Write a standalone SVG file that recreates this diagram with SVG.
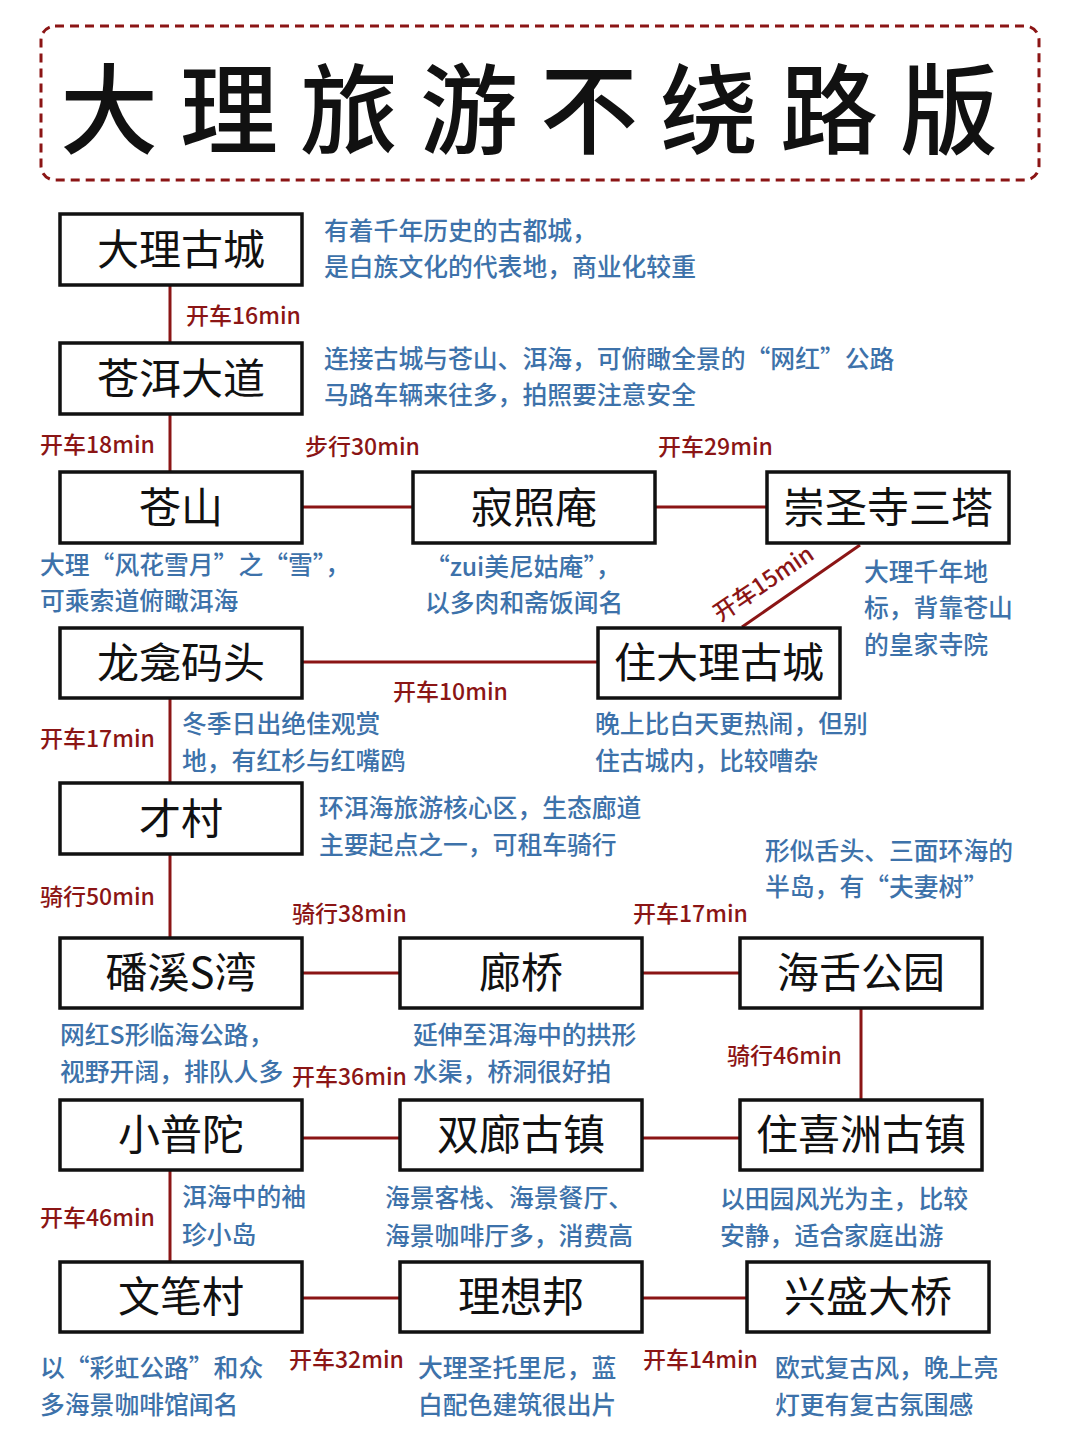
<svg xmlns="http://www.w3.org/2000/svg" width="1080" height="1440" viewBox="0 0 1080 1440">
<style>
.b{fill:#fff;stroke:#111;stroke-width:3.5}
.n{font-family:"Noto Sans CJK SC","Liberation Sans",sans-serif;font-size:42px;fill:#111;text-anchor:middle}
.d{font-family:"Noto Sans CJK SC","Liberation Sans",sans-serif;font-size:24.8px;fill:#3d72aa;font-weight:500}
.l{font-family:"Noto Sans CJK SC","Liberation Sans",sans-serif;font-size:23px;fill:#8b1515;font-weight:500}
.c line{stroke:#8b1515;stroke-width:3}
</style>
<rect width="1080" height="1440" fill="#fff"/>
<g id="title">
<rect x="41" y="26" width="998" height="154" rx="14" fill="none" stroke="#8b1515" stroke-width="3" stroke-dasharray="9,6"/>
<text x="540" y="146" text-anchor="middle" font-family="Noto Sans CJK SC,sans-serif" font-size="98" font-weight="500" letter-spacing="22" fill="#111">大理旅游不绕路版</text>
</g>
<g class="c" id="connectors">
<line x1="170" y1="285" x2="170" y2="343"/>
<line x1="170" y1="414" x2="170" y2="472"/>
<line x1="302" y1="507" x2="413" y2="507"/>
<line x1="655" y1="507" x2="767" y2="507"/>
<line x1="860" y1="545" x2="742" y2="627"/>
<line x1="302" y1="662" x2="598" y2="662"/>
<line x1="170" y1="698" x2="170" y2="783"/>
<line x1="170" y1="854" x2="170" y2="938"/>
<line x1="302" y1="973" x2="400" y2="973"/>
<line x1="642" y1="973" x2="740" y2="973"/>
<line x1="861" y1="1008" x2="861" y2="1100"/>
<line x1="302" y1="1138" x2="400" y2="1138"/>
<line x1="642" y1="1138" x2="740" y2="1138"/>
<line x1="170" y1="1170" x2="170" y2="1262"/>
<line x1="302" y1="1298" x2="400" y2="1298"/>
<line x1="642" y1="1298" x2="747" y2="1298"/>
</g>
<g id="labels">
<text class="l" x="186" y="324">开车16min</text>
<text class="l" x="40" y="453">开车18min</text>
<text class="l" x="305" y="455">步行30min</text>
<text class="l" x="658" y="455">开车29min</text>
<text class="l" x="768" y="590" text-anchor="middle" transform="rotate(-34 768 590)">开车15min</text>
<text class="l" x="393" y="700">开车10min</text>
<text class="l" x="40" y="747">开车17min</text>
<text class="l" x="40" y="905">骑行50min</text>
<text class="l" x="292" y="922">骑行38min</text>
<text class="l" x="633" y="922">开车17min</text>
<text class="l" x="727" y="1064">骑行46min</text>
<text class="l" x="292" y="1085">开车36min</text>
<text class="l" x="40" y="1226">开车46min</text>
<text class="l" x="289" y="1368">开车32min</text>
<text class="l" x="643" y="1368">开车14min</text>
</g>
<g id="n1"><rect class="b" x="60" y="214" width="242" height="71"/><text class="n" x="181" y="265">大理古城</text></g>
<g id="n2"><rect class="b" x="60" y="343" width="242" height="71"/><text class="n" x="181" y="394">苍洱大道</text></g>
<g id="n3"><rect class="b" x="60" y="472" width="242" height="71"/><text class="n" x="181" y="523">苍山</text></g>
<g id="n4"><rect class="b" x="413" y="472" width="242" height="71"/><text class="n" x="534" y="523">寂照庵</text></g>
<g id="n5"><rect class="b" x="767" y="472" width="242" height="71"/><text class="n" x="888" y="523">崇圣寺三塔</text></g>
<g id="n6"><rect class="b" x="60" y="628" width="242" height="70"/><text class="n" x="181" y="678">龙龛码头</text></g>
<g id="n7"><rect class="b" x="598" y="628" width="242" height="70"/><text class="n" x="719" y="678">住大理古城</text></g>
<g id="n8"><rect class="b" x="60" y="783" width="242" height="71"/><text class="n" x="181" y="834">才村</text></g>
<g id="n9"><rect class="b" x="60" y="938" width="242" height="70"/><text class="n" x="181" y="988">磻溪S湾</text></g>
<g id="n10"><rect class="b" x="400" y="938" width="242" height="70"/><text class="n" x="521" y="988">廊桥</text></g>
<g id="n11"><rect class="b" x="740" y="938" width="242" height="70"/><text class="n" x="861" y="988">海舌公园</text></g>
<g id="n12"><rect class="b" x="60" y="1100" width="242" height="70"/><text class="n" x="181" y="1150">小普陀</text></g>
<g id="n13"><rect class="b" x="400" y="1100" width="242" height="70"/><text class="n" x="521" y="1150">双廊古镇</text></g>
<g id="n14"><rect class="b" x="740" y="1100" width="242" height="70"/><text class="n" x="861" y="1150">住喜洲古镇</text></g>
<g id="n15"><rect class="b" x="60" y="1262" width="242" height="70"/><text class="n" x="181" y="1312">文笔村</text></g>
<g id="n16"><rect class="b" x="400" y="1262" width="242" height="70"/><text class="n" x="521" y="1312">理想邦</text></g>
<g id="n17"><rect class="b" x="747" y="1262" width="242" height="70"/><text class="n" x="868" y="1312">兴盛大桥</text></g>
<g id="desc">
<text class="d" x="324" y="240">有着千年历史的古都城，</text><text class="d" x="324" y="276">是白族文化的代表地，商业化较重</text>
<text class="d" x="324" y="368">连接古城与苍山、洱海，可俯瞰全景的“网红”公路</text><text class="d" x="324" y="404">马路车辆来往多，拍照要注意安全</text>
<text class="d" x="40" y="574">大理“风花雪月”之“雪”，</text><text class="d" x="40" y="610">可乘索道俯瞰洱海</text>
<text class="d" x="425" y="576">“zui美尼姑庵”，</text><text class="d" x="425" y="612">以多肉和斋饭闻名</text>
<text class="d" x="864" y="581">大理千年地</text><text class="d" x="864" y="617">标，背靠苍山</text><text class="d" x="864" y="654">的皇家寺院</text>
<text class="d" x="182" y="733">冬季日出绝佳观赏</text><text class="d" x="182" y="770">地，有红杉与红嘴鸥</text>
<text class="d" x="595" y="733">晚上比白天更热闹，但别</text><text class="d" x="595" y="770">住古城内，比较嘈杂</text>
<text class="d" x="319" y="817">环洱海旅游核心区，生态廊道</text><text class="d" x="319" y="854">主要起点之一，可租车骑行</text>
<text class="d" x="765" y="860">形似舌头、三面环海的</text><text class="d" x="765" y="896">半岛，有“夫妻树”</text>
<text class="d" x="60" y="1044">网红S形临海公路，</text><text class="d" x="60" y="1081">视野开阔，排队人多</text>
<text class="d" x="413" y="1044">延伸至洱海中的拱形</text><text class="d" x="413" y="1081">水渠，桥洞很好拍</text>
<text class="d" x="182" y="1206">洱海中的袖</text><text class="d" x="182" y="1244">珍小岛</text>
<text class="d" x="385" y="1207">海景客栈、海景餐厅、</text><text class="d" x="385" y="1245">海景咖啡厅多，消费高</text>
<text class="d" x="720" y="1208">以田园风光为主，比较</text><text class="d" x="720" y="1245">安静，适合家庭出游</text>
<text class="d" x="40" y="1377">以“彩虹公路”和众</text><text class="d" x="40" y="1414">多海景咖啡馆闻名</text>
<text class="d" x="418" y="1377">大理圣托里尼，蓝</text><text class="d" x="418" y="1414">白配色建筑很出片</text>
<text class="d" x="775" y="1377">欧式复古风，晚上亮</text><text class="d" x="775" y="1414">灯更有复古氛围感</text>
</g>
</svg>
